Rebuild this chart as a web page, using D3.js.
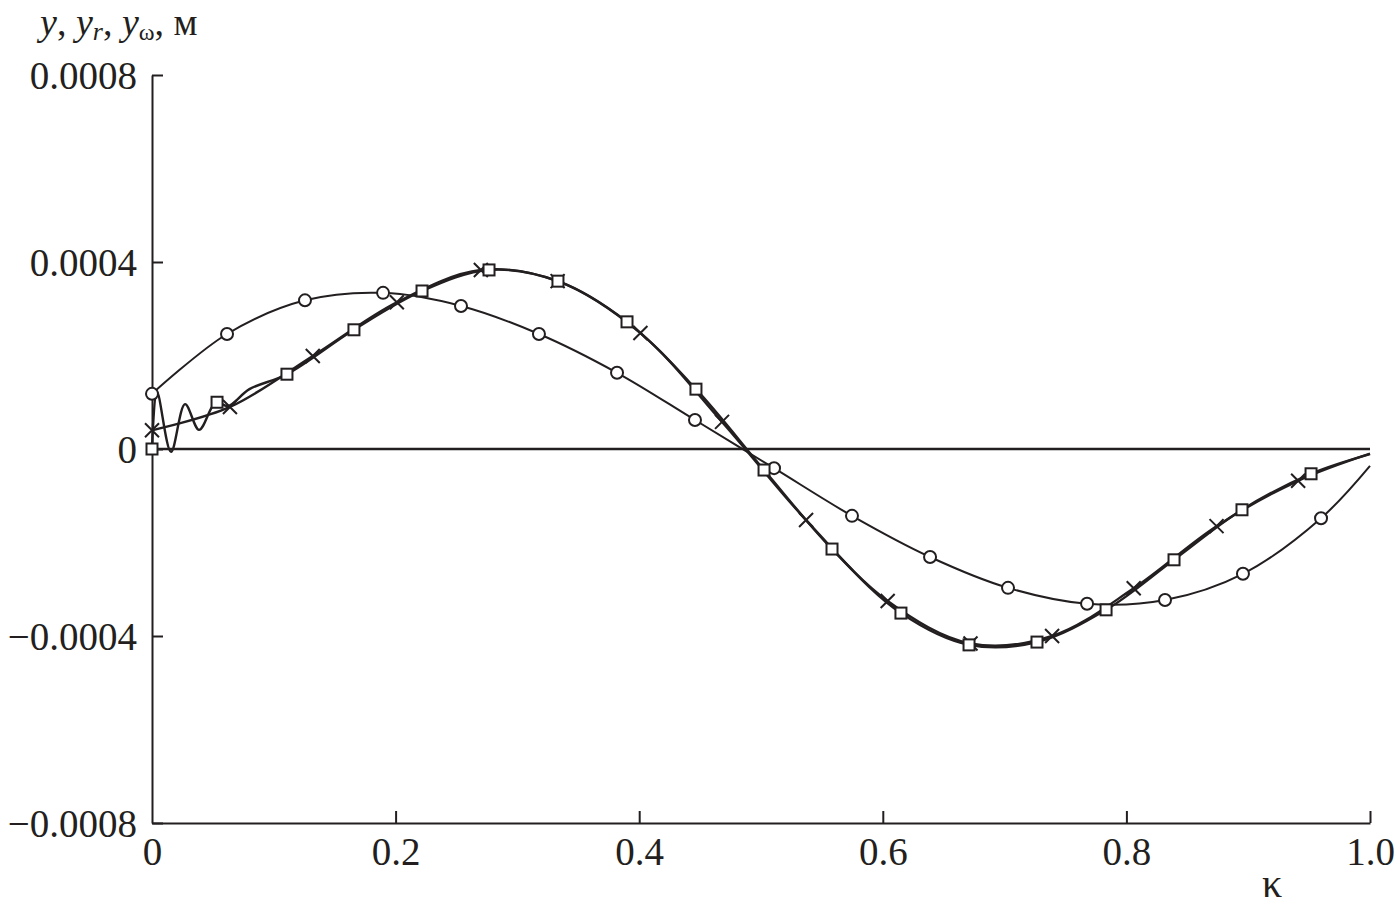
<!DOCTYPE html>
<html>
<head>
<meta charset="utf-8">
<script src="https://cdn.jsdelivr.net/npm/d3@7"></script>
<style>
  html, body { margin: 0; padding: 0; background: #fff; }
  svg { display: block; }
  text { font-family: "Liberation Serif", "DejaVu Serif", serif; fill: #231f20; }
</style>
</head>
<body>
<svg id="chart" width="1396" height="907"></svg>
<script>
// ---- data ----
const xTicks = [0, 0.2, 0.4, 0.6, 0.8, 1.0];
const xTickLabels = ["0", "0.2", "0.4", "0.6", "0.8", "1.0"];
const yTicks = [0.0008, 0.0004, 0, -0.0004, -0.0008];
const yTickLabels = ["0.0008", "0.0004", "0", "\u22120.0004", "\u22120.0008"];

// circle-marked curve
const circleX = [0, 0.0616, 0.1256, 0.1897, 0.2537, 0.3177, 0.3818, 0.4458, 0.5107, 0.5747, 0.6388, 0.7028, 0.7677, 0.8317, 0.8957, 0.9598];
const circleY = [0.000118, 0.000246, 0.000318, 0.000334, 0.000306, 0.000246, 0.000163, 0.000062, -0.000041, -0.000143, -0.000231, -0.000297, -0.000331, -0.000323, -0.000267, -0.000148];
const circleLineX = [0, 0.0616, 0.1256, 0.1897, 0.2537, 0.3177, 0.3818, 0.4458, 0.5107, 0.5747, 0.6388, 0.7028, 0.7677, 0.8317, 0.8957, 0.9598, 1.0];
const circleLineY = [0.000118, 0.000246, 0.000318, 0.000334, 0.000306, 0.000246, 0.000163, 0.000062, -0.000041, -0.000143, -0.000231, -0.000297, -0.000331, -0.000323, -0.000267, -0.000148, -0.000036];

// cross-marked curve
const crossX = [0, 0.064, 0.132, 0.201, 0.270, 0.333, 0.401, 0.468, 0.537, 0.604, 0.672, 0.739, 0.806, 0.874, 0.941];
const crossY = [0.000040, 0.000090, 0.000199, 0.000314, 0.000383, 0.000359, 0.000248, 0.000058, -0.000152, -0.000325, -0.000416, -0.000400, -0.000298, -0.000165, -0.000068];
const crossLineX = [0, 0.064, 0.132, 0.201, 0.270, 0.333, 0.401, 0.468, 0.537, 0.604, 0.672, 0.739, 0.806, 0.874, 0.941, 1.0];
const crossLineY = [0.000040, 0.000090, 0.000199, 0.000314, 0.000383, 0.000359, 0.000248, 0.000058, -0.000152, -0.000325, -0.000416, -0.000400, -0.000298, -0.000165, -0.000068, -0.000010];

// square-marked curve (with the initial oscillation)
const squareX = [0, 0.0534, 0.1108, 0.1658, 0.2217, 0.2767, 0.3333, 0.3900, 0.4466, 0.5025, 0.5583, 0.6149, 0.6708, 0.7266, 0.7833, 0.8391, 0.8949, 0.9516];
const squareY = [0, 0.000100, 0.000160, 0.000255, 0.000338, 0.000383, 0.000359, 0.000272, 0.000128, -0.000045, -0.000214, -0.000351, -0.000419, -0.000413, -0.000344, -0.000237, -0.000130, -0.000053];
const squareLineX = [0, 0.0041, 0.0156, 0.0271, 0.0386, 0.0493, 0.0534, 0.0624, 0.0800, 0.1108, 0.1658, 0.2217, 0.2767, 0.3333, 0.3900, 0.4466, 0.5025, 0.5583, 0.6149, 0.6708, 0.7266, 0.7833, 0.8391, 0.8949, 0.9516, 1.0];
const squareLineY = [0, 0.000122, -0.000006, 0.000096, 0.000041, 0.000090, 0.000100, 0.000092, 0.000128, 0.000160, 0.000255, 0.000338, 0.000383, 0.000359, 0.000272, 0.000128, -0.000045, -0.000214, -0.000351, -0.000419, -0.000413, -0.000344, -0.000237, -0.000130, -0.000053, -0.000011];

// ---- drawing ----
const svg = d3.select("#chart");
const x = d3.scaleLinear().domain([0, 1]).range([152, 1370]);
const y = d3.scaleLinear().domain([-0.0008, 0.0008]).range([823, 75]);
const ink = "#231f20";

// y axis
const yAxis = svg.append("g")
  .attr("transform", `translate(${x(0)},0)`)
  .call(d3.axisLeft(y).tickValues(yTicks).tickFormat((d, i) => yTickLabels[i])
    .tickSizeInner(-11).tickSizeOuter(0).tickPadding(15));
yAxis.select(".domain").attr("stroke", ink).attr("stroke-width", 2);
yAxis.selectAll(".tick line").attr("stroke", ink).attr("stroke-width", 2);
yAxis.selectAll(".tick text")
  .attr("font-family", "Liberation Serif").attr("font-size", 39).attr("fill", ink)
  .attr("dy", "0.35em");

// x axis
const xAxis = svg.append("g")
  .attr("transform", `translate(0,${y(-0.0008)})`)
  .call(d3.axisBottom(x).tickValues(xTicks).tickFormat((d, i) => xTickLabels[i])
    .tickSizeInner(-12).tickSizeOuter(0).tickPadding(0));
xAxis.select(".domain").attr("stroke", ink).attr("stroke-width", 2);
xAxis.selectAll(".tick line").attr("stroke", ink).attr("stroke-width", 2);
xAxis.selectAll(".tick").filter(d => d === 0).select("line").remove();
xAxis.selectAll(".tick text")
  .attr("font-family", "Liberation Serif").attr("font-size", 39).attr("fill", ink)
  .attr("y", 42).attr("dy", 0);

// zero line
svg.append("line")
  .attr("x1", x(0)).attr("x2", x(1)).attr("y1", y(0)).attr("y2", y(0))
  .attr("stroke", ink).attr("stroke-width", 2.5);

const line = d3.line().x(d => x(d[0])).y(d => y(d[1])).curve(d3.curveCatmullRom.alpha(0.5));
const zip = (a, b) => a.map((v, i) => [v, b[i]]);

svg.append("path").datum(zip(circleLineX, circleLineY)).attr("d", line)
  .attr("fill", "none").attr("stroke", ink).attr("stroke-width", 2);
svg.append("path").datum(zip(crossLineX, crossLineY)).attr("d", line)
  .attr("fill", "none").attr("stroke", ink).attr("stroke-width", 2.4);
svg.append("path").datum(zip(squareLineX, squareLineY)).attr("d", line)
  .attr("fill", "none").attr("stroke", ink).attr("stroke-width", 2.4);

// markers
svg.append("g").selectAll("circle").data(zip(circleX, circleY)).join("circle")
  .attr("cx", d => x(d[0])).attr("cy", d => y(d[1])).attr("r", 6)
  .attr("fill", "#fff").attr("stroke", ink).attr("stroke-width", 2);

const cs = 7;
svg.append("g").selectAll("path").data(zip(crossX, crossY)).join("path")
  .attr("d", d => {
    const cx = x(d[0]), cy = y(d[1]);
    return `M${cx - cs},${cy - cs}L${cx + cs},${cy + cs}M${cx - cs},${cy + cs}L${cx + cs},${cy - cs}`;
  })
  .attr("fill", "none").attr("stroke", ink).attr("stroke-width", 2);

const sq = 11;
svg.append("g").selectAll("rect").data(zip(squareX, squareY)).join("rect")
  .attr("x", d => x(d[0]) - sq / 2).attr("y", d => y(d[1]) - sq / 2)
  .attr("width", sq).attr("height", sq)
  .attr("fill", "#fff").attr("stroke", ink).attr("stroke-width", 2);

// axis titles
const yl = svg.append("text").attr("x", 40).attr("y", 35)
  .attr("font-family", "Liberation Serif").attr("font-size", 38).attr("fill", ink);
yl.append("tspan").attr("font-style", "italic").text("y");
yl.append("tspan").text(", ");
yl.append("tspan").attr("font-style", "italic").text("y");
yl.append("tspan").attr("font-style", "italic").attr("font-size", 26).attr("dy", 5).text("r");
yl.append("tspan").attr("dy", -5).text(", ");
yl.append("tspan").attr("font-style", "italic").text("y");
yl.append("tspan").attr("font-size", 24).attr("dy", 5).text("\u03c9");
yl.append("tspan").attr("dy", -5).text(",  \u043c");

svg.append("text").attr("x", 1272).attr("y", 897).attr("text-anchor", "middle")
  .attr("font-family", "Liberation Serif").attr("font-size", 40).attr("fill", ink)
  .text("\u03ba");
</script>
</body>
</html>
